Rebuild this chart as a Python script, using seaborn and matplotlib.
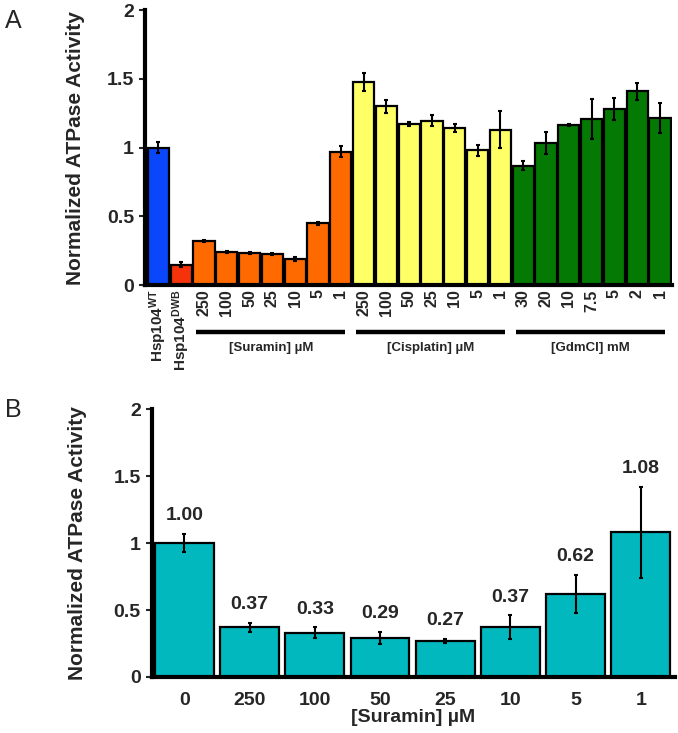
import matplotlib
matplotlib.use("Agg")
import matplotlib.pyplot as plt
import matplotlib.transforms as mtransforms
import seaborn as sns
import pandas as pd

# Panel A: ATPase activity of Hsp104 with inhibitors
a_labels = [r"Hsp104$^{\mathregular{WT}}$", r"Hsp104$^{\mathregular{DWB}}$",
            "250", "100", "50", "25", "10", "5", "1",
            "250", "100", "50", "25", "10", "5", "1",
            "30", "20", "10", "7.5", "5", "2", "1"]
a_values = [1.00, 0.15,
            0.32, 0.24, 0.235, 0.225, 0.19, 0.45, 0.97,
            1.48, 1.30, 1.17, 1.195, 1.145, 0.98, 1.13,
            0.87, 1.035, 1.165, 1.21, 1.28, 1.41, 1.215]
a_errors = [0.04, 0.015,
            0.008, 0.008, 0.008, 0.008, 0.015, 0.01, 0.04,
            0.065, 0.045, 0.015, 0.04, 0.03, 0.04, 0.135,
            0.03, 0.08, 0.005, 0.145, 0.08, 0.06, 0.11]
a_groups = ["WT", "DWB"] + ["Suramin"] * 7 + ["Cisplatin"] * 7 + ["GdmCl"] * 7
group_colors = {"WT": "#0A46FA", "DWB": "#F5320A", "Suramin": "#FF6A00",
                "Cisplatin": "#FFFF66", "GdmCl": "#047A04"}
group_titles = ["[Suramin] µM", "[Cisplatin] µM", "[GdmCl] mM"]

# Panel B: suramin titration
b_labels = ["0", "250", "100", "50", "25", "10", "5", "1"]
b_values = [1.00, 0.37, 0.33, 0.29, 0.27, 0.37, 0.62, 1.08]
b_errors = [0.07, 0.035, 0.04, 0.045, 0.015, 0.09, 0.14, 0.34]

sns.set_style("ticks")
plt.rcParams["font.family"] = ["Liberation Sans", "DejaVu Sans"]
plt.rcParams["font.weight"] = "bold"
plt.rcParams["mathtext.default"] = "regular"

fig = plt.figure(figsize=(6.78, 7.33), dpi=100)
ax_a = fig.add_axes([0.214, 0.611, 0.777, 0.375])
ax_b = fig.add_axes([0.224, 0.0764, 0.771, 0.3656])

yticks = [0, 0.5, 1, 1.5, 2]
ytick_labels = ["0", "0.5", "1", "1.5", "2"]


def style_axis(ax, label_size):
    ax.set_ylim(0, 2)
    ax.set_yticks(yticks)
    ax.set_yticklabels(ytick_labels, fontsize=label_size, fontweight="bold")
    for side in ["top", "right"]:
        ax.spines[side].set_visible(False)
    for side in ["left", "bottom"]:
        ax.spines[side].set_linewidth(3)
        ax.spines[side].set_color("black")
    ax.tick_params(axis="y", length=4, width=1.5, direction="out", pad=4)
    ax.set_ylabel("Normalized ATPase Activity", fontsize=15,
                  fontweight="bold")


# ---- Panel A ----
df_a = pd.DataFrame({"pos": range(len(a_values)), "value": a_values,
                     "group": a_groups})
sns.barplot(data=df_a, x="pos", y="value", hue="group",
            palette=group_colors, dodge=False, legend=False,
            width=0.93, edgecolor="black", linewidth=1.6,
            saturation=1, ax=ax_a)
ax_a.errorbar(df_a["pos"], df_a["value"], yerr=a_errors, fmt="none",
              ecolor="black", elinewidth=1.5, capsize=1.5, capthick=1.5)
style_axis(ax_a, 14)
ax_a.yaxis.set_label_coords(-0.115, 0.5)
ax_a.set_xlim(-0.58, 22.52)
ax_a.set_xlabel("")
ax_a.set_xticks(range(len(a_labels)))
ax_a.set_xticklabels(a_labels, rotation=90, fontsize=11.5,
                     fontweight="bold", va="top", ha="center")
for lab in ax_a.get_xticklabels()[:2]:
    lab.set_fontsize(11)
ax_a.tick_params(axis="x", length=4, width=1.2, direction="in", pad=3)

trans = mtransforms.blended_transform_factory(ax_a.transData, ax_a.transAxes)
starts = [2, 9, 16]
ends = [8, 15, 22]
for s, e, title in zip(starts, ends, group_titles):
    x0, x1 = s - 0.33, e + 0.2
    ax_a.plot([x0, x1], [-0.171, -0.171], color="black", lw=3.2,
              transform=trans, clip_on=False, solid_capstyle="butt")
    ax_a.text((x0 + x1) / 2, -0.228, title, transform=trans, ha="center",
              va="center", fontsize=9.5, fontweight="bold")

# ---- Panel B ----
df_b = pd.DataFrame({"pos": range(len(b_values)), "value": b_values})
sns.barplot(data=df_b, x="pos", y="value", color="#00B8BE",
            width=0.9, edgecolor="black", linewidth=1.6,
            saturation=1, ax=ax_b)
ax_b.errorbar(df_b["pos"], df_b["value"], yerr=b_errors, fmt="none",
              ecolor="black", elinewidth=1.5, capsize=1.5, capthick=1.5)
style_axis(ax_b, 14)
ax_b.yaxis.set_label_coords(-0.125, 0.5)
ax_b.set_xlim(-0.5, 7.52)
ax_b.set_xticks(range(len(b_labels)))
ax_b.set_xticklabels(b_labels, fontsize=14, fontweight="bold")
ax_b.tick_params(axis="x", length=0, pad=11)
ax_b.set_xlabel("[Suramin] µM", fontsize=14, fontweight="bold", labelpad=0)
for i, (v, e) in enumerate(zip(b_values, b_errors)):
    ax_b.annotate(f"{v:.2f}", xy=(i, v + e), xytext=(0, 7),
                  textcoords="offset points", ha="center", va="bottom",
                  fontsize=14, fontweight="bold")

fig.text(0.008, 0.972, "A", fontsize=18, fontweight="normal", va="center")
fig.text(0.008, 0.44, "B", fontsize=18, fontweight="normal", va="center")

fig.savefig("out.png", dpi=100)
